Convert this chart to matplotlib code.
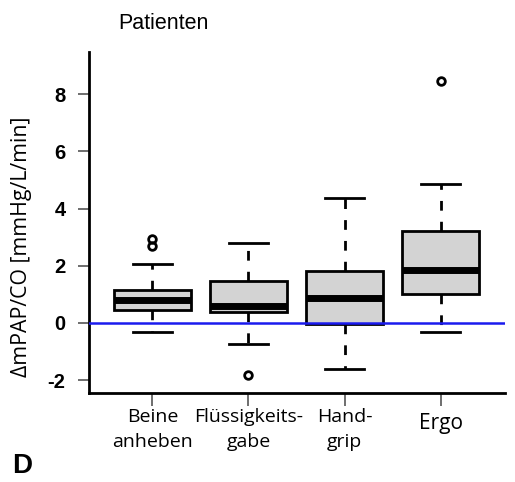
import matplotlib
matplotlib.use("Agg")
import matplotlib.pyplot as plt

labels = ["Beine\nanheben", "Flüssigkeits-\ngabe", "Hand-\ngrip", "Ergo"]
q1 = [0.45, 0.40, -0.03, 1.00]
med = [0.80, 0.60, 0.88, 1.85]
q3 = [1.17, 1.46, 1.83, 3.23]
whislo = [-0.32, -0.73, -1.61, -0.32]
whishi = [2.07, 2.81, 4.38, 4.85]
fliers = [[2.70, 2.93], [-1.82], [], [8.48]]
yticks = [-2, 0, 2, 4, 6, 8]

stats = []
for i in range(len(labels)):
    stats.append(dict(q1=q1[i], med=med[i], q3=q3[i], whislo=whislo[i],
                      whishi=whishi[i], fliers=fliers[i], label=labels[i]))

fig = plt.figure(figsize=(5.15, 4.82), dpi=100)
ax = fig.add_axes([0.1728, 0.1846, 0.8078, 0.7075])

ax.bxp(stats, positions=[1, 2, 3, 4], widths=0.8, capwidths=0.4, patch_artist=True,
       boxprops=dict(facecolor="#d3d3d3", edgecolor="black", linewidth=2),
       medianprops=dict(color="black", linewidth=5, solid_capstyle="butt"),
       whiskerprops=dict(color="black", linewidth=2, linestyle=(0, (3.5, 4))),
       capprops=dict(color="black", linewidth=2),
       flierprops=dict(marker="o", markersize=5.5, markerfacecolor="none",
                       markeredgecolor="black", markeredgewidth=2))

ax.axhline(0, color="#1a1aee", linewidth=1.8, zorder=5)

ax.set_xlim(0.34, 4.67)
ax.set_ylim(-2.45, 9.48)
ax.set_yticks(yticks)
ax.set_yticklabels([str(t) for t in yticks], fontsize=14.5, fontweight="bold",
                   family="Liberation Sans")
ax.set_xticks([1, 2, 3, 4])
ax.set_xticklabels(labels, fontsize=14, family="Open Sans", linespacing=1.5)
ax.tick_params(axis="both", color="#555555", width=1.2)
ax.tick_params(axis="y", length=8, pad=9)
ax.tick_params(axis="x", length=9, pad=2)
# "Ergo" sits a bit lower and larger than the two-line labels
ax.xaxis.get_major_ticks()[3].set_pad(5.5)
ax.get_xticklabels()[3].set_fontsize(15)

for s in ("top", "right"):
    ax.spines[s].set_visible(False)
for s in ("left", "bottom"):
    ax.spines[s].set_linewidth(2)

# y label placed by hand, it sits lower than the axes centre in the original
fig.text(22 / 515, 1 - 247 / 482, "ΔmPAP/CO [mmHg/L/min]", fontsize=15.3,
         family="Open Sans", rotation=90, ha="center", va="center")

fig.text(118 / 515, 1 - 29 / 482, "Patienten", fontsize=15.5, family="Liberation Sans",
         ha="left", va="baseline")
fig.text(12 / 515, 1 - 473 / 482, "D", fontsize=20, fontweight="bold",
         family="Liberation Sans", ha="left", va="baseline")

fig.savefig("out.png", dpi=100)
